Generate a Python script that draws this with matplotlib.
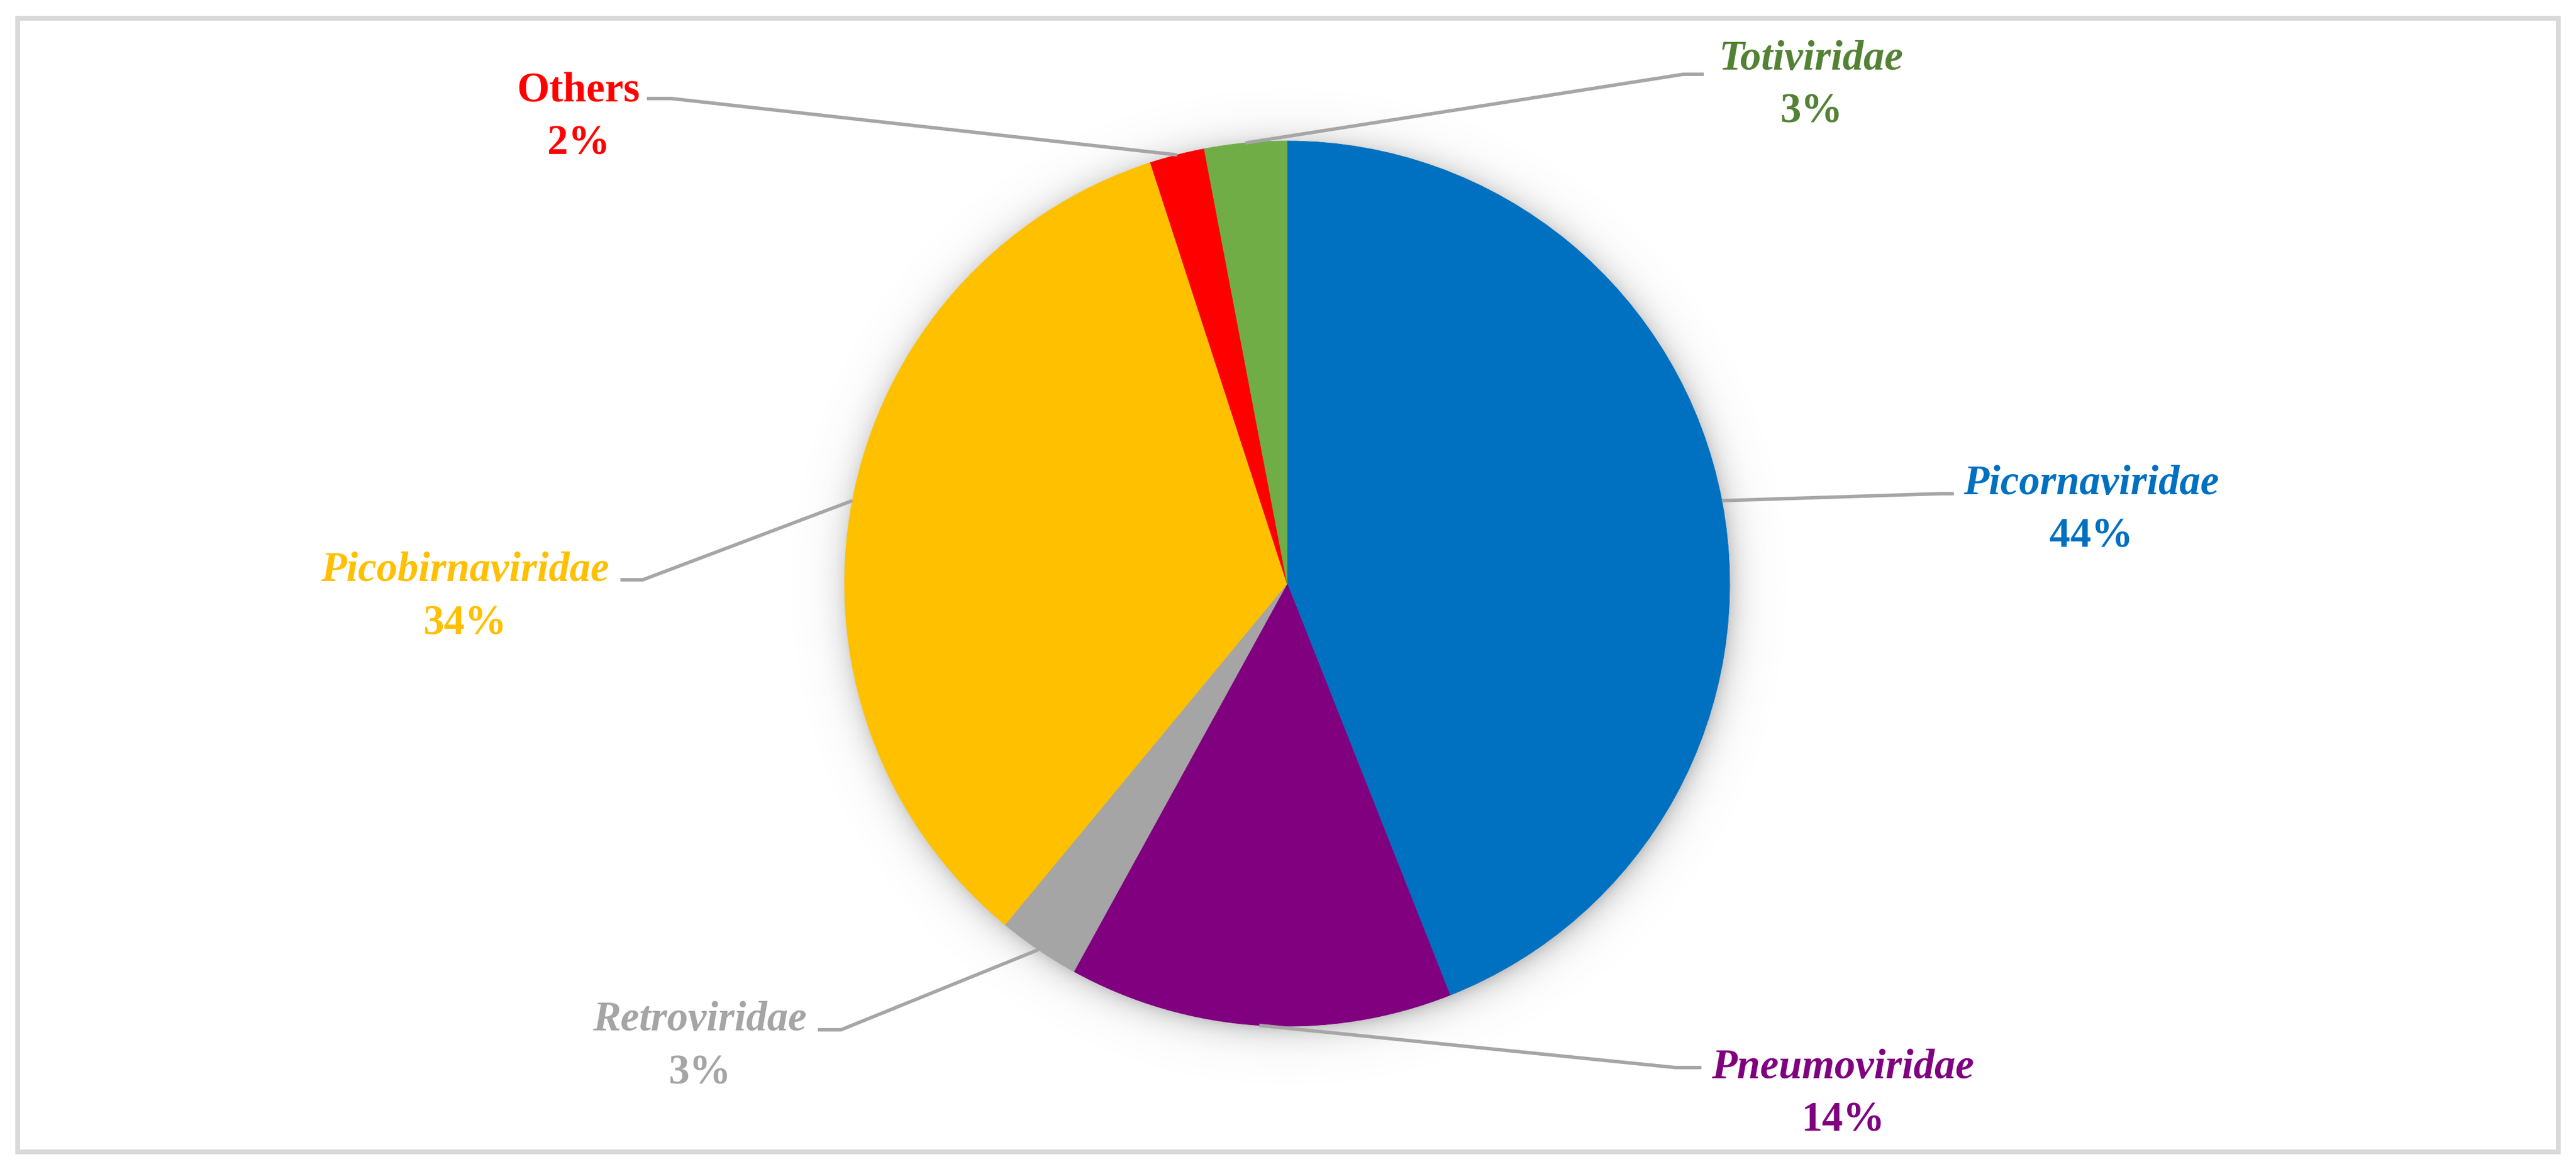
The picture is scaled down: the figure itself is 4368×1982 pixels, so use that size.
import numpy as np
import matplotlib.pyplot as plt
from matplotlib.patches import Rectangle

# datos del grafico (sentido horario desde arriba)
families = ['Picornaviridae', 'Pneumoviridae', 'Retroviridae', 'Picobirnaviridae', 'Others', 'Totiviridae']
shares = [44, 14, 3, 34, 2, 3]
pct_labels = ['44%', '14%', '3%', '34%', '2%', '3%']
slice_colors = ['#0070C0', '#800080', '#A5A5A5', '#FFC000', '#FF0000', '#70AD47']
text_colors = ['#0070C0', '#800080', '#A5A5A5', '#FFC000', '#FF0000', '#548235']
italic_name = [True, True, True, True, False, True]

W, H = 4368, 1982
cx, cy, R = 2182.5, 989.5, 750.5

# posiciones de etiquetas (pixeles): centro x, linea base del nombre, codo, final de la linea
label_x = [3546, 3125, 1186, 788, 981, 3071]
label_y = [838, 1828, 1747, 985, 171, 118]
elbow = [(3290, 837), (2841, 1810), (1426, 1746), (1090, 983), (1138, 167), (2854, 126)]
stub_end = [(3313, 837), (2885, 1810), (1387, 1746), (1052, 983), (1097, 167), (2889, 126)]

plt.rcParams['font.family'] = ['Liberation Serif', 'DejaVu Serif']

fig = plt.figure(figsize=(W / 100, H / 100), dpi=100)
ax = fig.add_axes([0, 0, 1, 1])

# sombra suave alrededor de la torta
n = 900
gx = np.linspace(cx - 950, cx + 950, n)
gy = np.linspace(cy - 950, cy + 950, n)
XX, YY = np.meshgrid(gx, gy)
d = np.sqrt((XX - cx - 3) ** 2 + (YY - cy - 6) ** 2)
alpha = np.clip(0.45 * np.exp(-(d - R + 10) / 22), 0, 0.45)
shadow = np.zeros((n, n, 4))
shadow[..., :3] = 0.35
shadow[..., 3] = alpha
ax.imshow(shadow, extent=(gx[0], gx[-1], gy[-1], gy[0]), zorder=0, interpolation='bilinear')

wedges, _ = ax.pie(shares, colors=slice_colors, startangle=-90, counterclock=True,
                   center=(cx, cy), radius=R,
                   wedgeprops=dict(linewidth=0.6, edgecolor=None))
for w in wedges:
    w.set_edgecolor(w.get_facecolor())
    w.set_zorder(2)

total = sum(shares)
cum = np.cumsum([0] + shares[:-1])
for i in range(len(shares)):
    ang = np.deg2rad(-90 + 360 * (cum[i] + shares[i] / 2) / total)
    sx, sy = cx + R * np.cos(ang), cy + R * np.sin(ang)
    ax.plot([sx, elbow[i][0], stub_end[i][0]], [sy, elbow[i][1], stub_end[i][1]],
            color='#A6A6A6', lw=4.2, solid_capstyle='butt', solid_joinstyle='miter', zorder=3)
    ax.text(label_x[i], label_y[i], families[i], color=text_colors[i], fontsize=51,
            fontweight='bold', fontstyle='italic' if italic_name[i] else 'normal',
            ha='center', va='baseline', zorder=4)
    ax.text(label_x[i], label_y[i] + 90, pct_labels[i], color=text_colors[i], fontsize=51,
            fontweight='bold', ha='center', va='baseline', zorder=4)

ax.add_patch(Rectangle((30, 31), 4308, 1922, fill=False, edgecolor='#D9D9D9', lw=5.8, zorder=5))

ax.set_xlim(0, W)
ax.set_ylim(H, 0)
ax.set_aspect('equal')
ax.axis('off')

fig.savefig('out.png', dpi=100, facecolor='white')
